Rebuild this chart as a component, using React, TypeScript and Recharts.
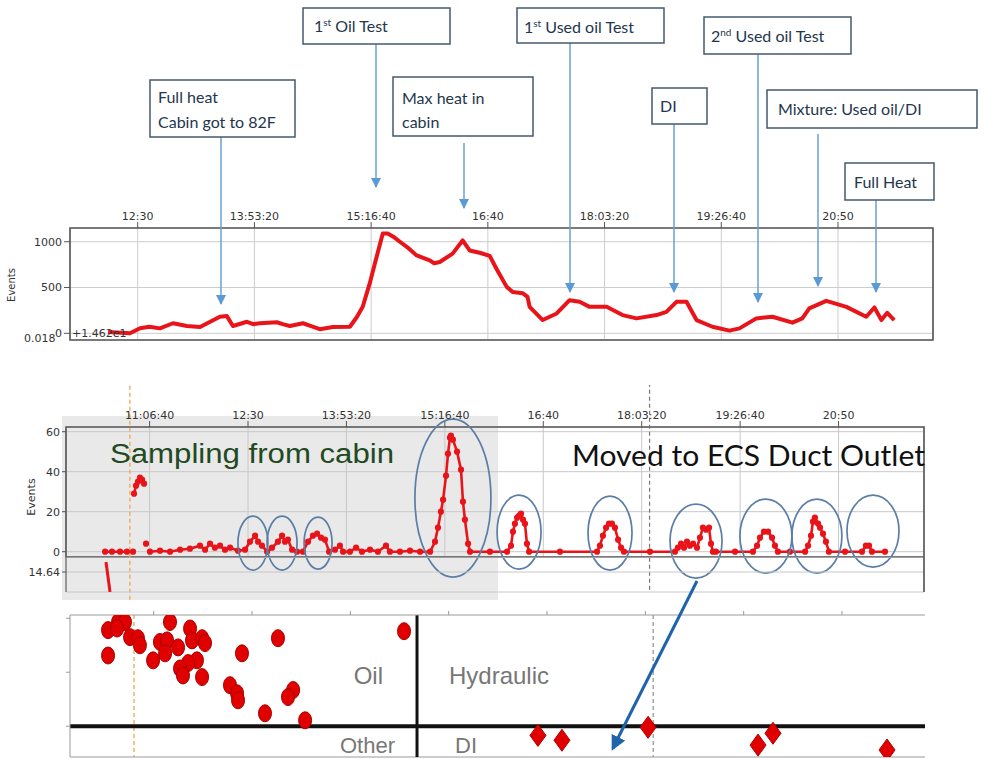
import {
  LineChart, Line, XAxis, YAxis, CartesianGrid, ReferenceLine, ReferenceArea,
  ReferenceDot, ScatterChart, Scatter,
} from 'recharts'

const RED = '#e8141a'

// shared time axis (seconds since midnight) and its tick labels
const TICK_TIMES = [40000, 45000, 50000, 55000, 60000, 65000, 70000, 75000]
const TICK_LABELS = ['11:06:40', '12:30', '13:53:20', '15:16:40', '16:40', '18:03:20', '19:26:40', '20:50']
const tickFmt = (t: number) => TICK_LABELS[TICK_TIMES.indexOf(t)] ?? ''

// panel 1: events over the whole run
const heatTime = [
  43730, 44670, 45100, 45500, 45950, 46510, 47110, 47670, 48520, 48820,
  49080, 49680, 49950, 50230, 50960, 51250, 51520, 52080, 52400, 52800,
  53360, 54090, 54390, 54640, 54940, 55160, 55500, 55710, 55950, 56230,
  56600, 56950, 57510, 57700, 57940, 58490, 58920, 59220, 59650, 60080,
  60380, 60810, 61060, 61490, 61700, 61790, 62350, 62950, 63500, 63930,
  64360, 65090, 65770, 66370, 67230, 67650, 68080, 68510, 68940, 69620,
  70350, 70780, 71500, 72190, 73050, 73470, 73770, 74500, 75360, 76210,
  76560, 76860, 77110, 77410,
]
const heatEvents = [
  15, 0, 55, 72, 54, 110, 80, 68, 180, 188,
  80, 126, 100, 110, 121, 98, 80, 110, 82, 45,
  68, 72, 178, 290, 545, 762, 1090, 1090, 1055, 1000,
  930, 851, 797, 765, 779, 870, 1014, 905, 880, 845,
  700, 507, 452, 438, 398, 289, 145, 217, 362, 344,
  289, 289, 199, 163, 199, 235, 344, 344, 145, 72,
  29, 54, 163, 181, 116, 163, 272, 355, 289, 181,
  282, 145, 224, 145,
]

// panel 2: events per sample (null = gap)
const midTime = [
  37740, 38090, 38500, 38850, 39160, 39185, 39210, 39310, 39410, 39510,
  39620, 39720, 39770, 39820, 39920, 40020, 40530, 41040, 41550, 42050,
  42560, 42820, 43070, 43320, 43580, 43830, 44090, 44490, 44850, 45100,
  45360, 45510, 45710, 45970, 46220, 46520, 46730, 46880, 47030, 47240,
  47490, 47790, 48050, 48300, 48510, 48710, 48910, 49120, 49420, 49670,
  49830, 50180, 50490, 50790, 51200, 51600, 52010, 52210, 52720, 53230,
  53740, 54250, 54500, 54650, 54800, 54910, 55060, 55160, 55260, 55310,
  55410, 55620, 55820, 55920, 56020, 56180, 56280, 57290, 58160, 58360,
  58460, 58560, 58670, 58770, 58870, 58970, 59070, 59170, 59280, 60850,
  62730, 62880, 63030, 63190, 63340, 63490, 63640, 63800, 63950, 64100,
  65420, 66690, 66840, 67000, 67150, 67300, 67450, 67610, 67810, 67960,
  68110, 68270, 68420, 68520, 68620, 68770, 69740, 70650, 70860, 71010,
  71210, 71420, 71620, 71770, 71920, 72530, 73300, 73450, 73600, 73700,
  73800, 73960, 74060, 74210, 74360, 74510, 75330, 76190, 76390, 76550,
  76700, 77360,
]
const midEvents: (number | null)[] = [
  0, 0, 0, 0, 0, null, 29, 33, 35, 37,
  36, 34, null, 4, null, 0, 0.5, 0, 1, 1.5,
  3, 1, 4, 2, 3, 1, 2, 0.5, 1, 5,
  8, 5, 3, 0, 2, 5, 8, 5, 6, 1,
  0, 0, 5, 8, 9, 7, 6, 0, 1, 3,
  0, 0, 2, 0, 1, 0, 3, 0, 0, 0.5,
  0, 0, 5, 12, 20, 26, 38, 49, 57, 58,
  56, 50, 41, 25, 16, 4, 0, 0, 0, 3,
  10, 14, 17, 18, 19, 16, 14, 4, 0, 0,
  0, 3, 8, 12, 14, 14, 12, 6, 2, 0,
  0, 0, 2, 4, 2, 5, 3, 4, 2, 7,
  12, 11, 12, 4, 0, 0, 0, 0, 3, 7,
  10, 10, 7, 3, 0, 0, 0, 3, 8, 15,
  17, 14, 12, 9, 5, 0, 0, 0, 3, 3,
  0, 0,
]
// circled peaks (centre of each ring)
const ringTime = [45250, 46730, 48560, 55410, 58770, 63390, 67760, 71310, 73900, 76750]
const ringEvents = [4.3, 4.3, 4.3, 26.8, 9.8, 9.3, 5.3, 7.8, 7.8, 10.3]
const ringSize = [[15, 27], [15, 27], [14, 26], [38, 79], [22, 37], [22, 37], [26, 37], [26, 37], [25, 37], [26, 36]]

// sub-panel below panel 2
const lowTime = [37786, 37990]
const lowValue = [14.650, 14.620]

// panel 3: classification
const oilTime = [
  37680, 38190, 38540, 38140, 37680, 38800, 39200, 39300, 40830, 40320,
  40680, 40580, 39970, 41240, 41850, 41950, 42460, 42610, 42200, 41750,
  41340, 41490, 42460, 44490, 46320, 43880, 44240, 44290, 47090, 46830,
  45660, 47700, 52730,
]
const oilLevel = [
  1.78, 1.93, 1.93, 1.81, 1.31, 1.65, 1.63, 1.5, 1.93, 1.56,
  1.59, 1.35, 1.22, 1.46, 1.81, 1.59, 1.63, 1.54, 1.22, 1.17,
  1.07, 0.94, 0.91, 1.35, 1.63, 0.76, 0.61, 0.48, 0.67, 0.54,
  0.24, 0.11, 1.76,
]
const diTime = [59540, 60760, 65140, 70730, 71490, 77290]
const diLevel = [-0.17, -0.26, -0.02, -0.35, -0.13, -0.44]

const START_MARK = 39000
const SWITCH_MARK = 65400
const OIL_SPLIT = 53390

const tickFont = { fontFamily: 'DejaVu Sans, sans-serif', fontSize: 11, fill: '#333' }

function TopPanel() {
  const data = heatTime.map((t, i) => ({ t, v: heatEvents[i] }))
  return (
    <div style={{ position: 'absolute', left: 0, top: 195 }}>
      <LineChart width={988} height={150} data={data} margin={{ top: 5, right: 55, bottom: 5, left: 0 }}>
        <CartesianGrid stroke="#cdcdcd" />
        <XAxis dataKey="t" type="number" orientation="top" domain={[42100, 79070]} allowDataOverflow
          ticks={TICK_TIMES.slice(1)} tickFormatter={tickFmt} height={28} tick={tickFont}
          axisLine={false} tickLine={{ stroke: '#555' }} />
        <YAxis type="number" domain={[-73, 1150]} ticks={[0, 500, 1000]} width={70} tick={tickFont}
          axisLine={false} tickLine={{ stroke: '#555' }} allowDataOverflow />
        <ReferenceArea x1={42100} x2={79070} y1={-73} y2={1150} fill="none" stroke="#555" strokeWidth={1.6} />
        <Line dataKey="v" stroke={RED} strokeWidth={4} strokeLinejoin="round" dot={false} isAnimationActive={false} />
      </LineChart>
    </div>
  )
}

function MidPanel() {
  const data = midTime.map((t, i) => ({ t, v: midEvents[i] }))
  return (
    <div style={{ position: 'absolute', left: 0, top: 385 }}>
      <LineChart width={988} height={215} data={data} margin={{ top: 5, right: 64, bottom: 43, left: 0 }}>
        <CartesianGrid stroke="#c8c8c8" />
        <XAxis dataKey="t" type="number" orientation="top" domain={[35754, 79341]} allowDataOverflow
          ticks={TICK_TIMES} tickFormatter={tickFmt} height={37} tick={tickFont}
          axisLine={false} tickLine={{ stroke: '#555' }} />
        <YAxis type="number" domain={[-2.65, 62.35]} ticks={[0, 20, 40, 60]} width={66} tick={tickFont}
          tickSize={4} axisLine={false} tickLine={{ stroke: '#555' }} allowDataOverflow />
        <ReferenceArea x1={35754} x2={79341} y1={-2.65} y2={62.35} fill="none" stroke="#555" strokeWidth={1.6} />
        <ReferenceLine segment={[{ x: START_MARK, y: -24 }, { x: START_MARK, y: 89 }]} ifOverflow="visible"
          stroke="#f2a54a" strokeDasharray="4 3" strokeWidth={1.3} />
        <ReferenceLine segment={[{ x: SWITCH_MARK, y: -19 }, { x: SWITCH_MARK, y: 87 }]} ifOverflow="visible"
          stroke="#777" strokeDasharray="4 3" strokeWidth={1.2} />
        <Line dataKey="v" stroke={RED} strokeWidth={2.6} connectNulls={false}
          dot={{ r: 1.8, fill: RED, stroke: RED }} isAnimationActive={false} />
        {ringTime.map((t, i) => (
          <ReferenceDot key={i} x={t} y={ringEvents[i]} ifOverflow="visible"
            shape={(p: any) => (
              <ellipse cx={p.cx} cy={p.cy} rx={ringSize[i][0]} ry={ringSize[i][1]}
                fill="none" stroke="#5b7ea6" strokeWidth={1.7} />
            )} />
        ))}
      </LineChart>
    </div>
  )
}

function LowPanel() {
  const data = lowTime.map((t, i) => ({ t, v: lowValue[i] }))
  return (
    <div style={{ position: 'absolute', left: 0, top: 557 }}>
      <LineChart width={988} height={40} data={data} margin={{ top: 0, right: 64, bottom: 5, left: 0 }}>
        <CartesianGrid stroke="#c8c8c8" />
        <XAxis dataKey="t" type="number" domain={[35754, 79341]} ticks={TICK_TIMES} height={0}
          tick={false} axisLine={false} tickLine={false} allowDataOverflow />
        <YAxis type="number" domain={[14.62, 14.655]} ticks={[14.64]} width={66} tick={tickFont}
          tickFormatter={(v: number) => v.toFixed(2)} tickSize={4} axisLine={{ stroke: '#555' }}
          tickLine={{ stroke: '#555' }} allowDataOverflow />
        <ReferenceLine x={79341} stroke="#555" strokeWidth={1.6} />
        <Line dataKey="v" stroke={RED} strokeWidth={3} dot={false} isAnimationActive={false} />
      </LineChart>
    </div>
  )
}

const OilMark = (p: any) => (
  <ellipse cx={p.cx} cy={p.cy} rx={6.5} ry={8.5} fill="#e00000" stroke="#a80000" strokeWidth={1} />
)
const DiMark = (p: any) => (
  <path d={`M${p.cx},${p.cy - 11} L${p.cx + 8},${p.cy} L${p.cx},${p.cy + 11} L${p.cx - 8},${p.cy} Z`}
    fill="#e00000" stroke="#b00000" strokeWidth={1} />
)

function BottomPanel() {
  const oil = oilTime.map((t, i) => ({ t, v: oilLevel[i] }))
  const di = diTime.map((t, i) => ({ t, v: diLevel[i] }))
  return (
    <div style={{ position: 'absolute', left: 0, top: 600 }}>
      <ScatterChart width={988} height={159} margin={{ top: 0, right: 63, bottom: 2, left: 0 }}>
        <XAxis dataKey="t" type="number" orientation="top" domain={[35745, 79220]} ticks={TICK_TIMES}
          tickFormatter={() => ''} height={15} tickSize={4} axisLine={{ stroke: '#9a9a9a' }}
          tickLine={{ stroke: '#9a9a9a' }} allowDataOverflow />
        <YAxis dataKey="v" type="number" domain={[-0.57, 2.06]} ticks={[0, 1, 2]} tickFormatter={() => ''}
          width={70} tickSize={4} axisLine={{ stroke: '#9a9a9a' }} tickLine={{ stroke: '#9a9a9a' }} allowDataOverflow />
        <ReferenceLine y={-0.57} stroke="#9a9a9a" />
        <ReferenceLine x={START_MARK} stroke="#f2a54a" strokeDasharray="4 3" strokeWidth={1.3} />
        <ReferenceLine x={SWITCH_MARK} stroke="#999" strokeDasharray="4 3" strokeWidth={1.3} />
        <ReferenceLine x={OIL_SPLIT} stroke="#111" strokeWidth={3} />
        <ReferenceLine y={0} stroke="#111" strokeWidth={4} />
        <Scatter data={oil} shape={OilMark} isAnimationActive={false} />
        <Scatter data={di} shape={DiMark} isAnimationActive={false} />
      </ScatterChart>
    </div>
  )
}

const NOTE_FONT = 'Lato, "Open Sans", sans-serif'

function Note({ x, y, w, h, children }: { x: number; y: number; w: number; h: number; children: any }) {
  return (
    <g>
      <rect x={x} y={y} width={w} height={h} fill="#fff" stroke="#44596f" strokeWidth={1.5} />
      {children}
    </g>
  )
}

function Overlay() {
  const txt = { fontFamily: NOTE_FONT, fontSize: 16, fill: '#24364d' }
  const sup = { fontSize: 10, baselineShift: 'super' } as any
  const arrows = [
    [221, 137, 304], [376, 44, 187], [464, 143, 208], [570, 43, 292],
    [674, 124, 292], [758, 54, 302], [818, 134, 286], [876, 200, 292],
  ]
  return (
    <svg width={988} height={759} style={{ position: 'absolute', left: 0, top: 0, pointerEvents: 'none' }}>
      <defs>
        <marker id="tip" viewBox="0 0 10 10" refX="9" refY="5" markerWidth="7" markerHeight="7" orient="auto">
          <path d="M0,0 L10,5 L0,10 z" fill="#5b9bd5" />
        </marker>
        <marker id="tipDark" viewBox="0 0 10 10" refX="8" refY="5" markerWidth="5" markerHeight="5" orient="auto">
          <path d="M0,0 L10,5 L0,10 z" fill="#1f63ad" />
        </marker>
      </defs>
      {arrows.map(([x, y1, y2], i) => (
        <line key={i} x1={x} y1={y1} x2={x} y2={y2} stroke="#6aa0d6" strokeWidth={1.5} markerEnd="url(#tip)" />
      ))}
      <Note x={150} y={80} w={145} h={57}>
        <text x={158} y={103} {...txt}>Full heat</text>
        <text x={158} y={128} {...txt}>Cabin got to 82F</text>
      </Note>
      <Note x={303} y={8} w={147} h={36}>
        <text x={314} y={32} {...txt}>1<tspan {...sup}>st</tspan><tspan dy={0}> Oil Test</tspan></text>
      </Note>
      <Note x={393} y={77} w={140} h={59}>
        <text x={402} y={104} {...txt}>Max heat in</text>
        <text x={402} y={128} {...txt}>cabin</text>
      </Note>
      <Note x={517} y={8} w={147} h={35}>
        <text x={524} y={33} {...txt}>1<tspan {...sup}>st</tspan><tspan> Used oil Test</tspan></text>
      </Note>
      <Note x={652} y={88} w={55} h={36}>
        <text x={660} y={112} {...txt}>DI</text>
      </Note>
      <Note x={704} y={17} w={147} h={37}>
        <text x={711} y={42} {...txt}>2<tspan {...sup}>nd</tspan><tspan> Used oil Test</tspan></text>
      </Note>
      <Note x={767} y={90} w={210} h={38}>
        <text x={778} y={115} {...txt}>Mixture: Used oil/DI</text>
      </Note>
      <Note x={845} y={163} w={89} h={37}>
        <text x={854} y={188} {...txt}>Full Heat</text>
      </Note>

      <text x={15} y={285} transform="rotate(-90 15 285)" textAnchor="middle"
        style={{ fontFamily: 'DejaVu Sans, sans-serif', fontSize: 10, fill: '#333' }}>Events</text>
      <text x={24} y={342} style={{ fontFamily: 'DejaVu Sans, sans-serif', fontSize: 11, fill: '#333' }}>0.018</text>
      <text x={72} y={337} style={{ fontFamily: 'DejaVu Sans, sans-serif', fontSize: 11, fill: '#333' }}>+1.462e1</text>
      <rect x={0} y={342} width={988} height={25} fill="#fff" />

      <text x={35} y={497} transform="rotate(-90 35 497)" textAnchor="middle"
        style={{ fontFamily: 'DejaVu Sans, sans-serif', fontSize: 11, fill: '#333' }}>Events</text>
      <text x={110} y={463} textLength={284} lengthAdjust="spacingAndGlyphs"
        style={{ fontFamily: '"Liberation Sans", Arial, sans-serif', fontSize: 27, fill: '#1f4a22' }}>Sampling from cabin</text>
      <text x={572} y={466} textLength={353} lengthAdjust="spacingAndGlyphs"
        style={{ fontFamily: NOTE_FONT, fontSize: 28, fill: '#111' }}>Moved to ECS Duct Outlet</text>

      <line x1={697} y1={581} x2={613} y2={748} stroke="#1f63ad" strokeWidth={3} markerEnd="url(#tipDark)" />

      <g style={{ fontFamily: '"Liberation Sans", Arial, sans-serif', fontSize: 24, fill: '#777' }}>
        <text x={383} y={684} textAnchor="end">Oil</text>
        <text x={449} y={684}>Hydraulic</text>
        <text x={395} y={753} textAnchor="end" style={{ fontSize: 22 }}>Other</text>
        <text x={455} y={753} style={{ fontSize: 22 }}>DI</text>
      </g>
    </svg>
  )
}

export default function App() {
  return (
    <div style={{ position: 'absolute', left: 0, top: 0, width: 988, height: 759, background: '#fff', overflow: 'hidden' }}>
      <div style={{ position: 'absolute', left: 62, top: 416, width: 436, height: 184, background: '#e9e9e9' }} />
      <TopPanel />
      <MidPanel />
      <LowPanel />
      <BottomPanel />
      <Overlay />
    </div>
  )
}
